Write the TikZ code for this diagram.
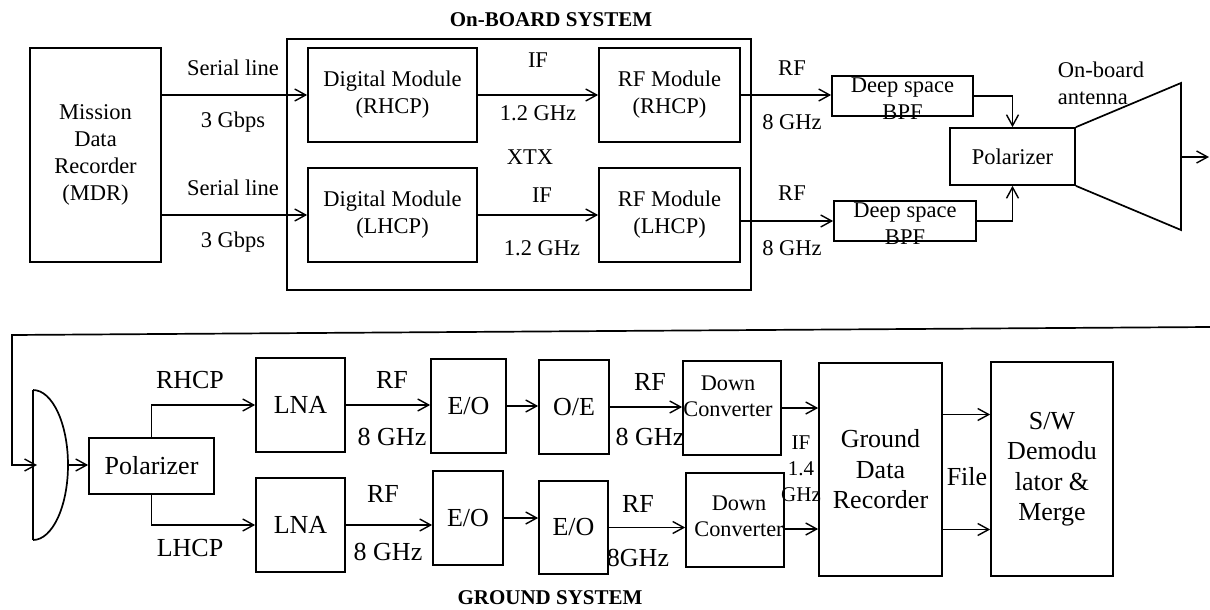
\documentclass[tikz,border=0pt]{standalone}
\usepackage{fontspec}
\setmainfont{Liberation Serif}
\usetikzlibrary{arrows.meta}

\begin{document}
\begin{tikzpicture}[
x=1pt, y=-1pt,
line width=1.7pt,
box/.style={draw, line width=1.7pt, align=center, inner sep=0pt},
arrow/.style={-{Straight Barb[length=11pt,width=12pt,line width=1.4pt]}, line width=1.7pt},
upper/.style={font=\fontsize{22.5}{27}\selectfont, align=center, inner sep=0pt},
lower/.style={font=\fontsize{26}{30.5}\selectfont, align=center, inner sep=0pt},
dctext/.style={font=\fontsize{22.3}{26}\selectfont, align=center, inner sep=0pt},
small/.style={font=\fontsize{21}{26}\selectfont, align=center, inner sep=0pt},
title/.style={font=\fontsize{21}{25}\selectfont\bfseries, inner sep=0pt}
]
\useasboundingbox (0,0) rectangle (1210,610);

% ---- on-board side ----
\node[title] (obtitle) at (551,20) {On-BOARD SYSTEM};
\node[draw, minimum width=464pt, minimum height=251pt] (xtxframe) at (519,164.5) {};
\node[upper] (xtx) at (530,157) {XTX};

\node[box, upper, minimum width=131pt, minimum height=214pt] (mdr) at (95.5,155) {Mission\\Data\\Recorder\\(MDR)};
\node[box, upper, minimum width=169pt, minimum height=94pt] (dmR) at (392.5,95) {Digital Module\\(RHCP)};
\node[box, upper, minimum width=169pt, minimum height=94pt] (dmL) at (392.5,215) {Digital Module\\(LHCP)};
\node[box, upper, minimum width=141pt, minimum height=94pt] (rfR) at (669.5,95) {RF Module\\(RHCP)};
\node[box, upper, minimum width=141pt, minimum height=94pt] (rfL) at (669.5,215) {RF Module\\(LHCP)};
\node[box, minimum width=141pt, minimum height=40pt, label={[upper, yshift=-2.5pt]center:Deep space\\BPF}] (bpfR) at (902.5,96) {};
\node[box, minimum width=142pt, minimum height=40pt, label={[upper, yshift=-2.5pt]center:Deep space\\BPF}] (bpfL) at (905,221) {};
\node[box, upper, minimum width=125pt, minimum height=57pt] (pol) at (1012.5,156.5) {Polarizer};
\node[upper, align=left, anchor=west] (antlbl) at (1057,83.5) {On-board\\antenna};

\node[upper] (slR) at (233,68) {Serial line};
\node[upper] (rateR) at (233,122) {3 Gbps};
\node[upper] (slL) at (233,188) {Serial line};
\node[upper] (rateL) at (233,242) {3 Gbps};
\node[upper] (ifR) at (538,60) {IF};
\node[upper] (ifqR) at (538,113) {1.2 GHz};
\node[upper] (ifL) at (542,195) {IF};
\node[upper] (ifqL) at (542,248) {1.2 GHz};
\node[upper] (rfoR) at (792,68) {RF};
\node[upper] (rfqR) at (792,122) {8 GHz};
\node[upper] (rfoL) at (792,193) {RF};
\node[upper] (rfqL) at (792,248) {8 GHz};

% horn antenna
\coordinate (hornout) at (1181,157);
\coordinate (txout) at (1209,157);
\draw (pol.north east) -- (1181,83) -- (1181,230) -- (pol.south east);

\draw[arrow] (mdr.east |- dmR.west) -- (dmR.west);
\draw[arrow] (mdr.east |- dmL.west) -- (dmL.west);
\draw[arrow] (dmR) -- (rfR);
\draw[arrow] (dmL) -- (rfL);
\draw[arrow] (rfR.east) -- (rfR.east -| bpfR.west);
\draw[arrow] (rfL.east |- bpfL.west) -- (bpfL.west);
\draw[arrow] (bpfR.east) -| (pol.north);
\draw[arrow] (bpfL.east) -| (pol.south);
\draw[arrow] (hornout) -- (txout);

% ---- ground side ----
\coordinate (rxR) at (1210,327);
\coordinate (rxL) at (12,335);
\coordinate (dishin) at (37,465);
\coordinate (dish) at (68,465);
\draw[arrow] (rxR) -- (rxL) |- (dishin);
\draw (33,390) -- (33,540);
\draw (33,390) arc[start angle=-90, end angle=90, x radius=35, y radius=75];

\node[box, lower, minimum width=125pt, minimum height=56pt] (gpol) at (151.5,466) {Polarizer};
\node[box, lower, minimum width=89pt, minimum height=94pt] (lnaR) at (300.5,405) {LNA};
\node[box, lower, minimum width=89pt, minimum height=94pt] (lnaL) at (300.5,525) {LNA};
\node[box, lower, minimum width=75pt, minimum height=94pt] (eoR) at (468.5,406) {E/O};
\node[box, lower, minimum width=70pt, minimum height=94pt] (eoL) at (468,518) {E/O};
\node[box, lower, minimum width=70pt, minimum height=94pt] (oeR) at (574,407) {O/E};
\node[box, lower, minimum width=69pt, minimum height=93pt] (oeL) at (573.5,527.5) {E/O};
\node[box, minimum width=98pt, minimum height=94pt, label={[dctext, yshift=12pt, xshift=-4pt]center:Down\\Converter}] (dcR) at (732,408) {};
\node[box, minimum width=98pt, minimum height=94pt, label={[dctext, yshift=3.5pt, xshift=4pt]center:Down\\Converter}] (dcL) at (735,520) {};
\node[box, lower, minimum width=123pt, minimum height=213pt] (gdr) at (880.5,469.5) {Ground\\Data\\Recorder};
\node[box, lower, minimum width=122pt, minimum height=214pt] (sw) at (1052,469) {S/W\\Demodu\\lator \&\\Merge};

\node[lower] (rhcp) at (190,380) {RHCP};
\node[lower] (lhcp) at (190,548) {LHCP};
\node[lower] (rfaR) at (392,380) {RF};
\node[lower] (rfaqR) at (392,437) {8 GHz};
\node[lower] (rfaL) at (383,494) {RF};
\node[lower] (rfaqL) at (388,552) {8 GHz};
\node[lower] (rfbR) at (650,382) {RF};
\node[lower] (rfbqR) at (650,437) {8 GHz};
\node[lower] (rfbL) at (638,504) {RF};
\node[lower] (rfbqL) at (638,558) {8GHz};
\node[small] (iflbl) at (801,469) {IF\\1.4\\GHz};
\node[lower] (filelbl) at (967,477) {File};
\node[title] (gndtitle) at (550,598) {GROUND SYSTEM};

\draw[arrow] (dish) -- (dish -| gpol.west);
\draw[arrow] (gpol.north) |- (lnaR.west);
\draw[arrow] (gpol.south) |- (lnaL.west);
\draw[arrow] (lnaR.east) -- (lnaR.east -| eoR.west);
\draw[arrow] (lnaL.east) -- (lnaL.east -| eoL.west);
\draw[arrow] (eoR.east) -- (eoR.east -| oeR.west);
\draw[arrow] (eoL.east) -- (eoL.east -| oeL.west);
\draw[arrow] (oeR.east) -- (oeR.east -| dcR.west);
\draw[arrow] (oeL.east) -- (oeL.east -| dcL.west);
\draw[arrow] (dcR.east) -- (dcR.east -| gdr.west);
\draw[arrow] ([yshift=-9pt]dcL.east) -- ([yshift=-9pt]dcL.east -| gdr.west);
\draw[arrow] ([yshift=55pt]gdr.east) -- ([yshift=55pt]gdr.east -| sw.west);
\draw[arrow] ([yshift=-60pt]gdr.east) -- ([yshift=-60pt]gdr.east -| sw.west);
\end{tikzpicture}
\end{document}
